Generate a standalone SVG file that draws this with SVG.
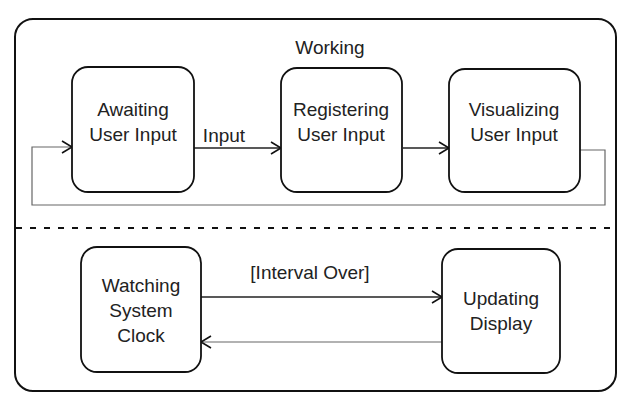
<svg xmlns="http://www.w3.org/2000/svg" width="621" height="405" viewBox="0 0 621 405">
<style>
.box{fill:#fff;stroke:#111;stroke-width:1.8}
.frame{fill:#fff;stroke:#111;stroke-width:2}
.t{font-family:"Liberation Sans",Arial,sans-serif;font-size:19px;fill:#222;text-anchor:middle}
.c{fill:none;stroke:#222;stroke-width:1.5}
.f{fill:none;stroke:#666;stroke-width:1.2}
.div{stroke:#111;stroke-width:2;stroke-dasharray:6 8}
</style>
<defs>
<marker id="ah" markerWidth="14" markerHeight="14" refX="11" refY="7" orient="auto" markerUnits="userSpaceOnUse">
<path d="M1,1 L11,7 L1,13" fill="none" stroke="#111" stroke-width="1.6"/>
</marker>
</defs>
<rect width="621" height="405" fill="#fff"/>
<g id="working">
<rect class="frame" x="15" y="19" width="601" height="372" rx="18"/>
<text class="t" x="330" y="54">Working</text>
<line class="div" x1="16" y1="228" x2="615" y2="228"/>
</g>
<g id="connectors">
<line class="c" x1="194" y1="148" x2="281" y2="148" marker-end="url(#ah)"/>
<text class="t" x="224" y="142">Input</text>
<line class="c" x1="403" y1="148" x2="449" y2="148" marker-end="url(#ah)"/>
<path class="f" d="M580,150 H605 V205 H32 V147 H72" marker-end="url(#ah)"/>
<line class="c" x1="201" y1="297" x2="442" y2="297" marker-end="url(#ah)"/>
<text class="t" x="310" y="279">[Interval Over]</text>
<line class="f" x1="442" y1="342" x2="201" y2="342" marker-end="url(#ah)"/>
</g>
<g id="awaiting">
<rect class="box" x="72" y="67" width="122" height="125" rx="16"/>
<text class="t" x="133" y="116">Awaiting</text>
<text class="t" x="133" y="141">User Input</text>
</g>
<g id="registering">
<rect class="box" x="281" y="68" width="121" height="124" rx="16"/>
<text class="t" x="341" y="116">Registering</text>
<text class="t" x="341" y="141">User Input</text>
</g>
<g id="visualizing">
<rect class="box" x="449" y="69" width="131" height="123" rx="16"/>
<text class="t" x="514" y="116">Visualizing</text>
<text class="t" x="514" y="141">User Input</text>
</g>
<g id="watching">
<rect class="box" x="81" y="247" width="120" height="125" rx="16"/>
<text class="t" x="141" y="292">Watching</text>
<text class="t" x="141" y="317">System</text>
<text class="t" x="141" y="342">Clock</text>
</g>
<g id="updating">
<rect class="box" x="442" y="249" width="118" height="124" rx="16"/>
<text class="t" x="501" y="305">Updating</text>
<text class="t" x="501" y="330">Display</text>
</g>
</svg>
